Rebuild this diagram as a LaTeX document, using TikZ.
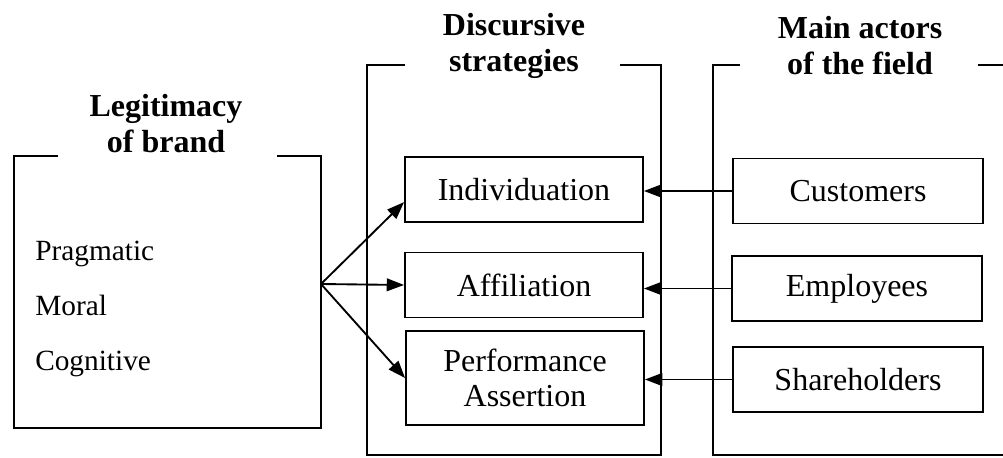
\documentclass[tikz,border=0pt]{standalone}
\usepackage{fontspec}
\setmainfont{Liberation Serif}
\usetikzlibrary{arrows.meta}
\tikzset{
    frame/.style={line width=1.4pt},
    box/.style={draw, line width=1.4pt, inner sep=0pt, align=center,
        minimum width=178.5pt, minimum height=48.75pt,
        font=\fontsize{24}{26}\selectfont},
    actor/.style={box, minimum width=187.5pt},
    head/.style={align=center, font=\fontsize{24}{27}\selectfont\bfseries},
    kind/.style={anchor=base west, inner sep=0pt, font=\fontsize{22}{24}\selectfont},
    link/.style={-{Triangle[length=13pt,width=9.5pt]}, line width=1.4pt}
}
\begin{document}
\begin{tikzpicture}[x=0.75pt,y=-0.75pt]
    \useasboundingbox (0,0) rectangle (1003,457);
    % three frames, open at the top for the titles
    \draw[frame] (58,156)--(14,156)--(14,428)--(321,428)--(321,156)--(277,156);
    \draw[frame] (405,65)--(367,65)--(367,455)--(661,455)--(661,65)--(620,65);
    \draw[frame] (740,65)--(713,65)--(713,455)--(1003,455);
    \draw[frame] (978,65)--(1003,65);
    \node[head] (legit) at (166,124) {Legitimacy\\of brand};
    \node[head] (strat) at (514,46) {Discursive\\strategies};
    \node[head] (field) at (860,46) {Main actors\\of the field};
    % kinds of legitimacy
    \node[kind] (prag) at (35,260) {Pragmatic};
    \node[kind] (moral) at (35,315) {Moral};
    \node[kind] (cogn) at (35,370) {Cognitive};
    % strategies
    \node[box] (indiv) at (524,189.5) {Individuation};
    \node[box] (affil) at (524,285) {Affiliation};
    \node[box, minimum height=70.5pt] (perf) at (525,378) {Performance\\Assertion};
    % actors
    \node[actor] (cust) at (858,191) {Customers};
    \node[actor] (empl) at (857,288.5) {Employees};
    \node[actor] (share) at (858,379.5) {Shareholders};
    % connectors
    \coordinate (src) at (321,284);
    \draw[link] (src) -- (indiv.186);
    \draw[link] (src) -- (affil.west);
    \draw[link] (src) -- (perf.west);
    \draw[link] (cust.west) -- (cust.west -| indiv.east);
    \draw[link] (empl.west) -- (empl.west -| affil.east);
    \draw[link] (share.west) -- (share.west -| perf.east);
\end{tikzpicture}
\end{document}
